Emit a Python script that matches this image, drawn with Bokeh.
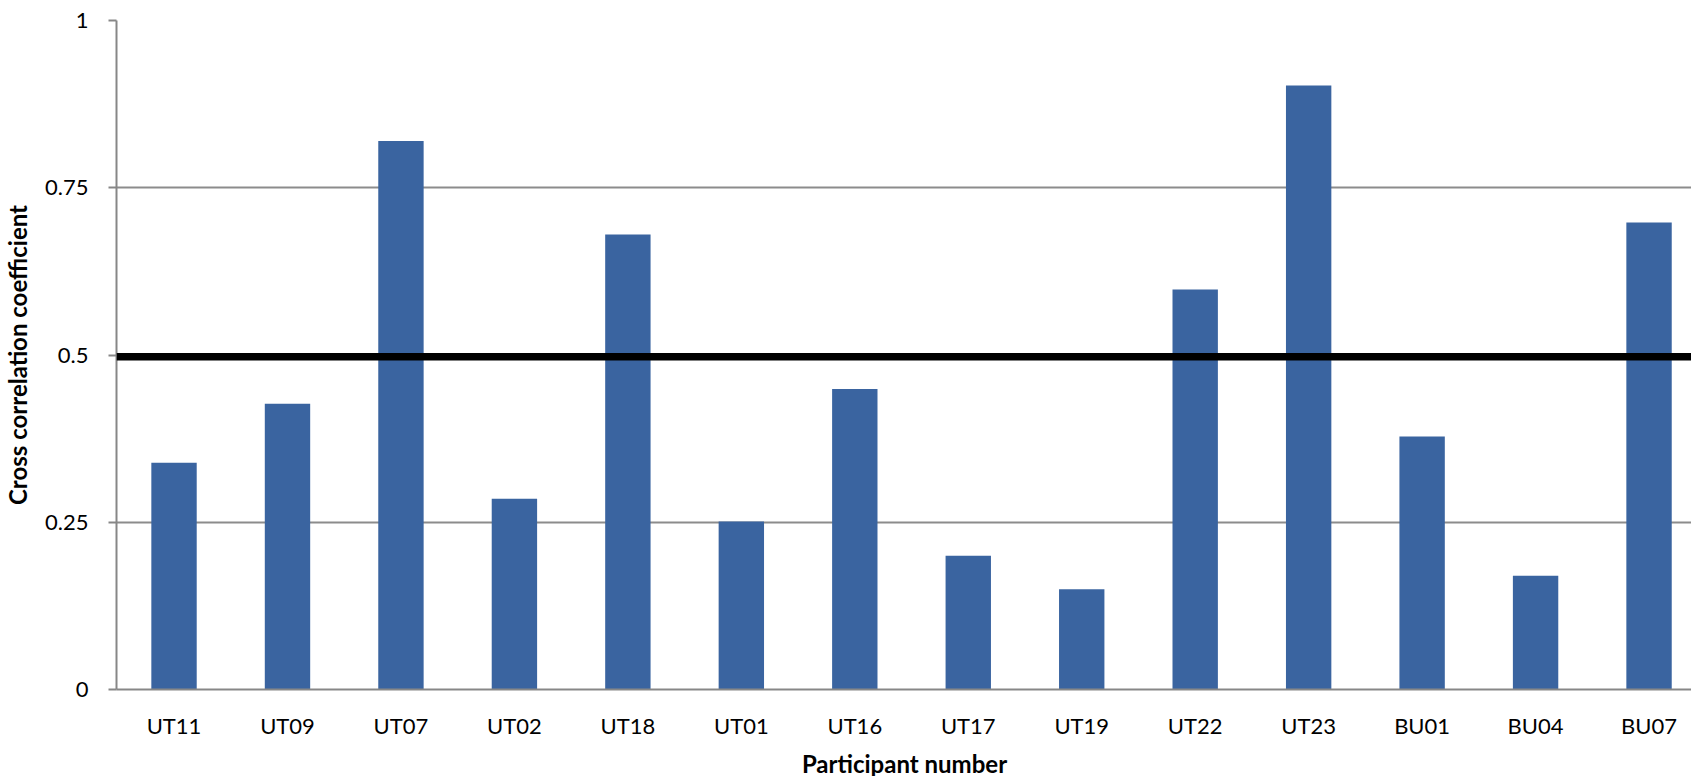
from bokeh.plotting import figure
from bokeh.models import Range1d, FixedTicker, Span, ColumnDataSource
from bokeh.embed import file_html
from bokeh.resources import INLINE

categories = ["UT11", "UT09", "UT07", "UT02", "UT18", "UT01", "UT16",
              "UT17", "UT19", "UT22", "UT23", "BU01", "BU04", "BU07"]
values = [0.339, 0.427, 0.820, 0.285, 0.680, 0.251, 0.449,
          0.200, 0.150, 0.598, 0.903, 0.378, 0.170, 0.698]
threshold = 0.4975
y_ticks = [0, 0.25, 0.5, 0.75, 1]
y_tick_labels = ["0", "0.25", "0.5", "0.75", "1"]

positions = list(range(len(categories)))
src = ColumnDataSource(dict(x=positions, top=values, name=categories))

FONT = "Lato"

p = figure(output_backend="svg", toolbar_location=None,
           frame_width=1576, frame_height=669,
           min_border_left=115, min_border_right=0,
           min_border_top=20, min_border_bottom=86,
           x_range=Range1d(-0.507, 13.383), y_range=Range1d(0, 1),
           background_fill_color="white", border_fill_color="white")
p.outline_line_color = None

p.vbar(x="x", top="top", width=0.4, bottom=0, source=src,
       fill_color="#3A64A0", line_color=None)

p.add_layout(Span(location=threshold, dimension="width",
                  line_color="black", line_width=7.5))

# x axis
p.xaxis.ticker = FixedTicker(ticks=positions)
p.xaxis.major_label_overrides = {i: c for i, c in zip(positions, categories)}
p.xaxis.major_tick_out = 0
p.xaxis.major_tick_in = 0
p.xaxis.minor_tick_line_color = None
p.xaxis.axis_line_color = "#878787"
p.xaxis.axis_line_width = 2
p.xaxis.major_label_text_font = FONT
p.xaxis.major_label_text_font_size = "22px"
p.xaxis.major_label_text_color = "black"
p.xaxis.major_label_standoff = 22
p.xaxis.axis_label = "Participant number"
p.xaxis.axis_label_text_font = FONT
p.xaxis.axis_label_text_font_size = "24px"
p.xaxis.axis_label_text_font_style = "bold"
p.xaxis.axis_label_text_color = "black"
p.xaxis.axis_label_standoff = 7
p.xgrid.grid_line_color = None

# y axis
p.yaxis.ticker = FixedTicker(ticks=y_ticks)
p.yaxis.major_label_overrides = {t: l for t, l in zip(y_ticks, y_tick_labels)}
p.yaxis.major_tick_out = 8
p.yaxis.major_tick_in = 0
p.yaxis.major_tick_line_color = "#878787"
p.yaxis.major_tick_line_width = 2
p.yaxis.minor_tick_line_color = None
p.yaxis.axis_line_color = "#878787"
p.yaxis.axis_line_width = 2
p.yaxis.major_label_text_font = FONT
p.yaxis.major_label_text_font_size = "22px"
p.yaxis.major_label_text_color = "black"
p.yaxis.major_label_standoff = 20
p.yaxis.axis_label = "Cross correlation coefficient"
p.yaxis.axis_label_text_font = FONT
p.yaxis.axis_label_text_font_size = "24px"
p.yaxis.axis_label_text_font_style = "bold"
p.yaxis.axis_label_text_color = "black"
p.yaxis.axis_label_standoff = 10
p.ygrid.grid_line_color = "#8C8C8C"
p.ygrid.grid_line_width = 2

open("out.html", "w").write(file_html(p, INLINE))
